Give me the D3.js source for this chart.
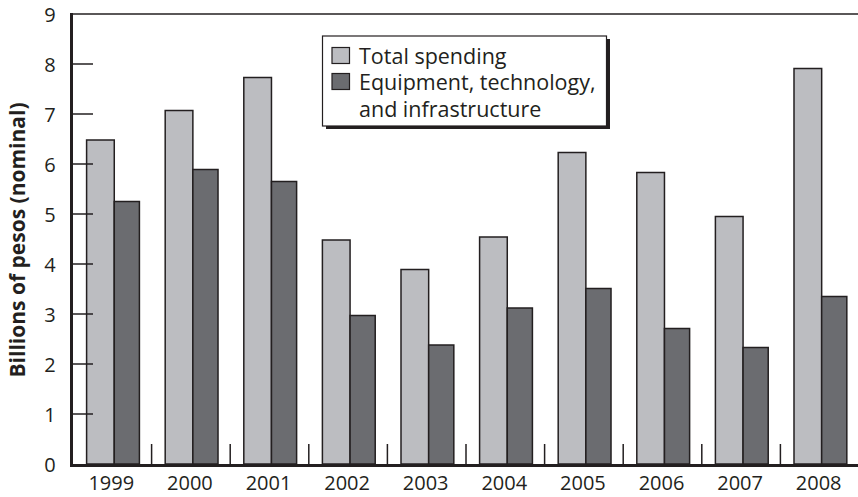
<!DOCTYPE html>
<html><head><meta charset="utf-8">
<script src="https://cdn.jsdelivr.net/npm/d3@7"></script>
<style>body{margin:0;background:#fff}svg{display:block}text{font-family:"Open Sans",sans-serif;fill:#231f20}</style>
</head><body><svg id="c" width="858" height="497"></svg>
<script>
const years = ["1999","2000","2001","2002","2003","2004","2005","2006","2007","2008"];
const totalSpending = [6.48, 7.07, 7.73, 4.48, 3.89, 4.54, 6.23, 5.83, 4.95, 7.91];
const equipment = [5.25, 5.89, 5.65, 2.97, 2.38, 3.12, 3.51, 2.71, 2.33, 3.35];
const yTicks = [0,1,2,3,4,5,6,7,8,9];
const seriesNames = ["Total spending", "Equipment, technology,", "and infrastructure"];

const svg = d3.select("#c");
const L = 73, R = 859, T = 14, B = 464;
const x = d3.scaleBand().domain(years).range([L, R]).padding(0);
const y = d3.scaleLinear().domain([0, 9]).range([B, T]);
const bw = x.bandwidth();
const offL = bw * 0.173, wL = bw * 0.352, wD = bw * 0.32;

const g = svg.append("g");
g.selectAll(".l").data(years).join("rect")
  .attr("x", d => x(d) + offL).attr("width", wL)
  .attr("y", (d,i) => y(totalSpending[i])).attr("height", (d,i) => B - y(totalSpending[i]))
  .attr("fill", "#bcbdc1").attr("stroke", "#231f20").attr("stroke-width", 1.5);
g.selectAll(".d").data(years).join("rect")
  .attr("x", d => x(d) + offL + wL).attr("width", wD)
  .attr("y", (d,i) => y(equipment[i])).attr("height", (d,i) => B - y(equipment[i]))
  .attr("fill", "#6b6c70").attr("stroke", "#231f20").attr("stroke-width", 1.5);

svg.append("line").attr("x1", L).attr("x2", 858).attr("y1", y(9)).attr("y2", y(9))
  .attr("stroke", "#231f20").attr("stroke-width", 1.5);

svg.selectAll(".yt").data(yTicks.filter(v => v > 0 && v < 9)).join("line")
  .attr("x1", L).attr("x2", L + 20).attr("y1", d => y(d)).attr("y2", d => y(d))
  .attr("stroke", "#231f20").attr("stroke-width", 1.5);
svg.selectAll(".yl").data(yTicks).join("text")
  .attr("x", 50).attr("y", d => y(d) + 7.5).attr("text-anchor", "middle")
  .attr("font-size", 20).text(d => d);

svg.selectAll(".xt").data(years.slice(1)).join("line")
  .attr("x1", d => x(d)).attr("x2", d => x(d)).attr("y1", B - 20).attr("y2", B)
  .attr("stroke", "#231f20").attr("stroke-width", 1.5);
svg.selectAll(".xl").data(years).join("text")
  .attr("x", d => x(d) + bw / 2 - 1).attr("y", 490).attr("text-anchor", "middle")
  .attr("font-size", 20).text(d => d);

svg.append("line").attr("x1", L - 1.5).attr("x2", L - 1.5).attr("y1", T - 1).attr("y2", B + 3)
  .attr("stroke", "#231f20").attr("stroke-width", 3);
svg.append("line").attr("x1", L - 3).attr("x2", 858).attr("y1", B + 1.5).attr("y2", B + 1.5)
  .attr("stroke", "#231f20").attr("stroke-width", 3);

svg.append("text").attr("transform", "translate(25,240) rotate(-90)")
  .attr("text-anchor", "middle").attr("font-size", 21).attr("font-weight", "bold")
  .text("Billions of pesos (nominal)");

const lg = svg.append("g");
lg.append("rect").attr("x", 326).attr("y", 39).attr("width", 284).attr("height", 90).attr("fill", "#231f20");
lg.append("rect").attr("x", 322.5).attr("y", 36).attr("width", 284).attr("height", 90)
  .attr("fill", "#fff").attr("stroke", "#231f20").attr("stroke-width", 1.2);
lg.append("rect").attr("x", 332).attr("y", 47.5).attr("width", 17.5).attr("height", 16)
  .attr("fill", "#bcbdc1").attr("stroke", "#231f20").attr("stroke-width", 1.2);
lg.append("rect").attr("x", 332).attr("y", 73.5).attr("width", 17.5).attr("height", 16)
  .attr("fill", "#6b6c70").attr("stroke", "#231f20").attr("stroke-width", 1.2);
lg.selectAll(".lt").data(seriesNames).join("text")
  .attr("x", 359).attr("y", (d,i) => 63.5 + i * 26.5).attr("font-size", 21.5).text(d => d);
</script></body></html>
